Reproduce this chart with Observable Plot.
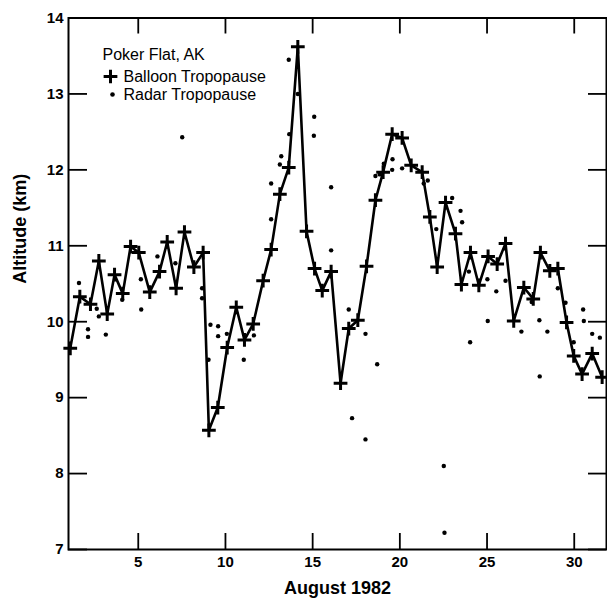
<!DOCTYPE html>
<html>
<head>
<meta charset="utf-8">
<script src="https://cdn.jsdelivr.net/npm/d3@7"></script>
<script src="https://cdn.jsdelivr.net/npm/@observablehq/plot@0.6"></script>
<style>
  html, body { margin: 0; padding: 0; background: #fff; }
  g[aria-label="axis-title"] text { letter-spacing: 1.6px; }
</style>
</head>
<body>
<div id="chart"></div>
<script>
// Balloon tropopause (day of August 1982, altitude km)
const balloonDay = [1.10,1.65,2.26,2.74,3.22,3.64,4.11,4.56,5.03,5.66,6.22,6.66,7.17,7.65,8.19,8.72,9.05,9.56,10.10,10.62,11.09,11.59,12.16,12.62,13.12,13.63,14.15,14.65,15.11,15.55,16.06,16.60,17.07,17.59,18.09,18.60,19.04,19.56,20.13,20.65,21.28,21.72,22.14,22.62,23.19,23.53,24.05,24.53,25.06,25.58,26.06,26.53,27.11,27.65,28.06,28.60,29.06,29.56,29.97,30.45,31.03,31.60];
const balloonAlt = [9.65,10.33,10.23,10.80,10.10,10.62,10.37,10.99,10.91,10.39,10.66,11.05,10.44,11.18,10.72,10.91,8.57,8.87,9.66,10.19,9.76,9.97,10.54,10.95,11.68,12.03,13.62,11.19,10.70,10.41,10.66,9.19,9.91,10.02,10.73,11.60,11.97,12.47,12.42,12.06,11.97,11.38,10.72,11.57,11.16,10.49,10.91,10.48,10.86,10.76,11.03,10.01,10.45,10.30,10.91,10.67,10.70,9.99,9.55,9.31,9.58,9.27];

// Radar tropopause
const radarDay = [1.60,2.12,2.12,2.62,2.74,3.14,4.08,5.15,5.17,6.10,7.13,7.52,8.66,8.66,9.03,9.14,9.58,9.58,10.08,11.05,11.63,12.62,12.62,13.12,13.20,13.66,13.63,14.15,15.09,15.07,16.06,16.06,17.07,17.26,18.03,18.03,18.70,18.60,18.85,19.08,19.58,19.56,20.13,21.37,21.60,22.09,22.52,22.56,23.00,23.48,23.57,23.96,24.03,25.02,25.04,25.53,26.06,26.97,27.56,28.00,28.46,28.02,29.06,29.50,29.97,30.51,30.55,31.03,31.47];
const radarAlt = [10.51,9.90,9.80,10.17,10.07,9.83,10.29,10.56,10.16,10.86,10.77,12.43,10.44,10.31,9.50,9.96,9.94,9.81,9.84,9.50,9.82,11.82,11.35,12.07,12.18,12.47,13.45,13.00,12.70,12.45,11.77,10.94,10.16,8.73,9.84,8.45,9.44,11.92,11.94,12.08,12.14,12.00,12.02,11.82,11.86,11.22,8.10,7.22,11.63,11.46,11.31,10.66,9.73,10.56,10.01,10.40,10.54,9.87,10.26,10.02,9.87,9.28,10.44,10.25,9.73,10.16,10.01,9.84,9.79];

const xTicks = [5, 10, 15, 20, 25, 30];
const yTicks = [7, 8, 9, 10, 11, 12, 13, 14];
const xDomain = [1, 31.85];
const yDomain = [7, 14];

const balloon = balloonDay.map((d, i) => ({day: d, alt: balloonAlt[i]}));
const radar = radarDay.map((d, i) => ({day: d, alt: radarAlt[i]}));

const W = 607, H = 598;
const mL = 68, mR = 1, mT = 17.5, mB = 49;
const innerW = W - mL - mR, innerH = H - mT - mB;
const font = "'Liberation Sans', Arial, Helvetica, sans-serif";

const chart = Plot.plot({
  width: W,
  height: H,
  marginLeft: mL,
  marginRight: mR,
  marginTop: mT,
  marginBottom: mB,
  style: {fontFamily: font, color: "black", background: "white"},
  x: {domain: xDomain},
  y: {domain: yDomain},
  marks: [
    // inward ticks on all four sides
    Plot.tickX(xTicks, {x: d => d, insetTop: innerH - 16, stroke: "black", strokeWidth: 1.8}),
    Plot.tickX(xTicks, {x: d => d, insetBottom: innerH - 16, stroke: "black", strokeWidth: 1.8}),
    Plot.tickY(yTicks, {y: d => d, insetRight: innerW - 19, stroke: "black", strokeWidth: 1.8}),
    Plot.tickY(yTicks, {y: d => d, insetLeft: innerW - 18, stroke: "black", strokeWidth: 1.8}),
    Plot.axisX({ticks: xTicks, tickSize: 0, tickPadding: 7, label: null, fontSize: 15, fontWeight: "bold", tickFormat: "d"}),
    Plot.axisY({ticks: yTicks, tickSize: 0, tickPadding: 5, label: null, fontSize: 15, fontWeight: "bold", tickFormat: "d"}),
    Plot.frame({stroke: "black", strokeWidth: 2}),
    // data
    Plot.line(balloon, {x: "day", y: "alt", stroke: "black", strokeWidth: 2.6}),
    Plot.dot(radar, {x: "day", y: "alt", r: 2.2, fill: "black"}),
    Plot.dot(balloon, {x: "day", y: "alt", symbol: "plus", r: 4.5, stroke: "black", strokeWidth: 3}),
    // axis titles
    Plot.text(["August 1982"], {text: d => d, frameAnchor: "bottom", dy: 39, lineAnchor: "middle", fontSize: 18, fontWeight: "bold", ariaLabel: "axis-title"}),
    Plot.text(["Altitude (km)"], {text: d => d, frameAnchor: "left", dx: -48, rotate: -90, lineAnchor: "middle", fontSize: 18, fontWeight: "bold", ariaLabel: "axis-title"}),
    // legend
    Plot.text(["Poker Flat, AK"], {text: d => d, frameAnchor: "top-left", dx: 34, dy: 36.5, textAnchor: "start", lineAnchor: "middle", fontSize: 16}),
    Plot.dot([0], {frameAnchor: "top-left", dx: 42, dy: 58.5, symbol: "plus", r: 4.5, stroke: "black", strokeWidth: 3}),
    Plot.text(["Balloon Tropopause"], {text: d => d, frameAnchor: "top-left", dx: 55, dy: 58.5, textAnchor: "start", lineAnchor: "middle", fontSize: 16}),
    Plot.dot([0], {frameAnchor: "top-left", dx: 44, dy: 76.5, r: 2.3, fill: "black"}),
    Plot.text(["Radar Tropopause"], {text: d => d, frameAnchor: "top-left", dx: 55, dy: 76.5, textAnchor: "start", lineAnchor: "middle", fontSize: 16})
  ]
});
document.getElementById("chart").appendChild(chart);
</script>
</body>
</html>
